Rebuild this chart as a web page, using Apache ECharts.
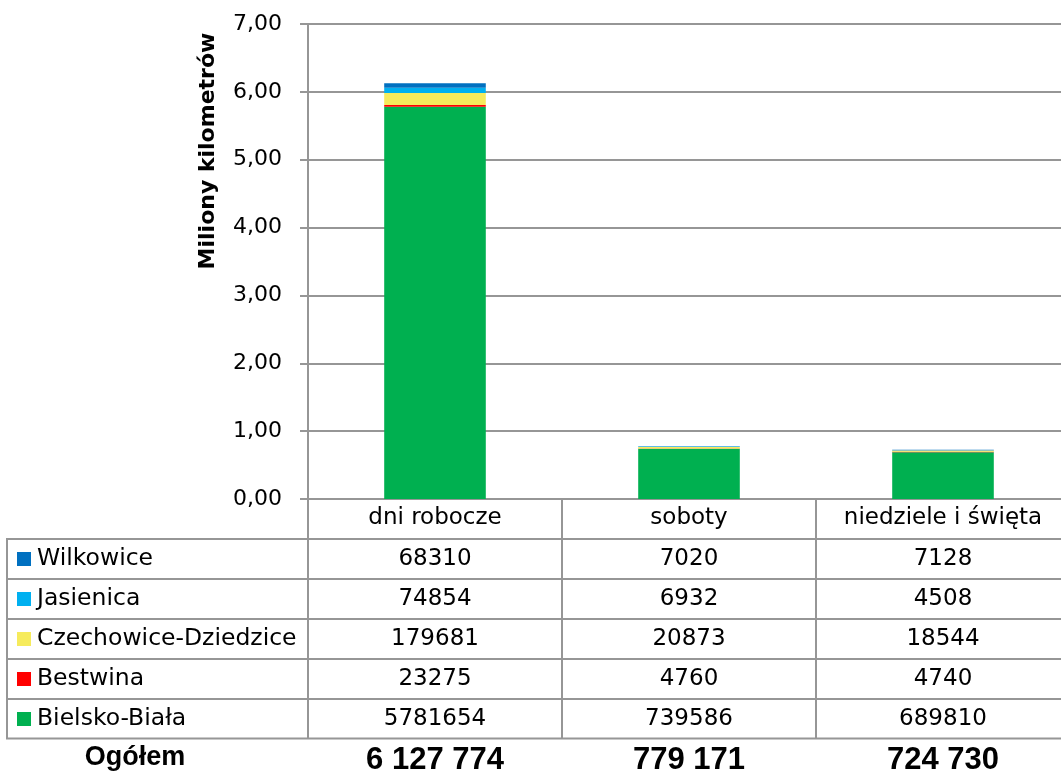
<!DOCTYPE html>
<html>
<head>
<meta charset="utf-8">
<script src="https://cdn.jsdelivr.net/npm/echarts@6/dist/echarts.min.js"></script>
<style>
  html, body { margin: 0; padding: 0; background: #fff; }
  #chart { width: 1061px; height: 771px; }
</style>
</head>
<body>
<div id="chart"></div>
<script>
// Kilometres per day type (vehicle-km), by municipality
const categories = ['dni robocze', 'soboty', 'niedziele i święta'];
const bielskoBiala = [5781654, 739586, 689810];
const bestwina = [23275, 4760, 4740];
const czechowice = [179681, 20873, 18544];
const jasienica = [74854, 6932, 4508];
const wilkowice = [68310, 7020, 7128];
const totalLabels = ['6 127 774', '779 171', '724 730'];
const totalTitle = 'Ogółem';
const axisTitle = 'Miliony kilometrów';

// Stack order, bottom to top
const seriesDefs = [
  { name: 'Bielsko-Biała', data: bielskoBiala, color: '#00B050' },
  { name: 'Bestwina', data: bestwina, color: '#FF0000' },
  { name: 'Czechowice-Dziedzice', data: czechowice, color: '#F6EB5C' },
  { name: 'Jasienica', data: jasienica, color: '#00B0F0' },
  { name: 'Wilkowice', data: wilkowice, color: '#0070C0' }
];

const LINE = '#969696';
const FONT = 'DejaVu Sans';
const tableLeft = 7;
const rowTop = 539;
const rowH = 40;

const chart = echarts.init(document.getElementById('chart'), null, { renderer: 'canvas' });

const option = {
  animation: false,
  backgroundColor: '#fff',
  grid: {
    left: 308, top: 24, bottom: 272, width: 762,
    containLabel: false, outerBoundsMode: 'none'
  },
  xAxis: {
    type: 'category',
    data: categories,
    boundaryGap: true,
    axisLine: { show: true, lineStyle: { color: LINE, width: 2 } },
    axisTick: { show: true, interval: 0, alignWithLabel: false, length: 239, lineStyle: { color: LINE, width: 2 } },
    axisLabel: { interval: 0, color: '#000', fontFamily: FONT, fontSize: 23, margin: 8 },
    splitLine: { show: false }
  },
  yAxis: {
    type: 'value',
    min: 0,
    max: 7,
    interval: 1,
    axisLine: { show: true, lineStyle: { color: LINE, width: 2 } },
    axisTick: { show: true, length: 8, lineStyle: { color: LINE, width: 2 } },
    axisLabel: {
      color: '#000', fontFamily: FONT, fontSize: 22, margin: 26,
      formatter: v => v.toFixed(2).replace('.', ',')
    },
    splitLine: { show: true, lineStyle: { color: LINE, width: 2 } }
  },
  series: seriesDefs.map(s => ({
    name: s.name,
    type: 'bar',
    stack: 'km',
    barWidth: '40%',
    itemStyle: { color: s.color },
    data: s.data.map(v => v / 1e6)
  }))
};

chart.setOption(option);

// Data table under the plot
const centers = categories.map((c, i) => chart.convertToPixel({ xAxisIndex: 0 }, i));
const graphics = [];

// Axis title
graphics.push({
  type: 'text',
  x: 208, y: 151,
  rotation: Math.PI / 2,
  style: {
    text: axisTitle,
    font: 'bold 22px "' + FONT + '"',
    fill: '#000',
    textAlign: 'center',
    textVerticalAlign: 'middle'
  }
});

// Horizontal rules
for (let r = 0; r <= 5; r++) {
  const y = r === 5 ? rowTop + rowH * 5 - 0.5 : rowTop + rowH * r;
  graphics.push({
    type: 'line',
    shape: { x1: tableLeft - 1, y1: y, x2: 1061, y2: y },
    style: { stroke: LINE, lineWidth: 2 }
  });
}
// Left border of the legend column
graphics.push({
  type: 'line',
  shape: { x1: tableLeft, y1: rowTop, x2: tableLeft, y2: rowTop + rowH * 5 },
  style: { stroke: LINE, lineWidth: 2 }
});

// Rows: top row is the top of the stack
const rows = seriesDefs.slice().reverse();
rows.forEach((s, r) => {
  const cy = rowTop + rowH * r + rowH / 2;
  graphics.push({
    type: 'rect',
    shape: { x: 17, y: cy - 7, width: 14, height: 14 },
    style: { fill: s.color }
  });
  graphics.push({
    type: 'text',
    x: 37, y: cy,
    style: {
      text: s.name, font: '23.5px "' + FONT + '"', fill: '#000',
      textAlign: 'left', textVerticalAlign: 'middle'
    }
  });
  s.data.forEach((v, i) => {
    graphics.push({
      type: 'text',
      x: centers[i], y: cy,
      style: {
        text: String(v), font: '23px "' + FONT + '"', fill: '#000',
        textAlign: 'center', textVerticalAlign: 'middle'
      }
    });
  });
});

// Totals row
graphics.push({
  type: 'text',
  x: 135, y: 758,
  style: {
    text: totalTitle, font: 'bold 27px "Liberation Sans"', fill: '#000',
    textAlign: 'center', textVerticalAlign: 'middle'
  }
});
totalLabels.forEach((t, i) => {
  graphics.push({
    type: 'text',
    x: centers[i], y: 760,
    style: {
      text: t, font: 'bold 31px "Liberation Sans"', fill: '#000',
      textAlign: 'center', textVerticalAlign: 'middle'
    }
  });
});

chart.setOption({ graphic: { elements: graphics } });
</script>
</body>
</html>
